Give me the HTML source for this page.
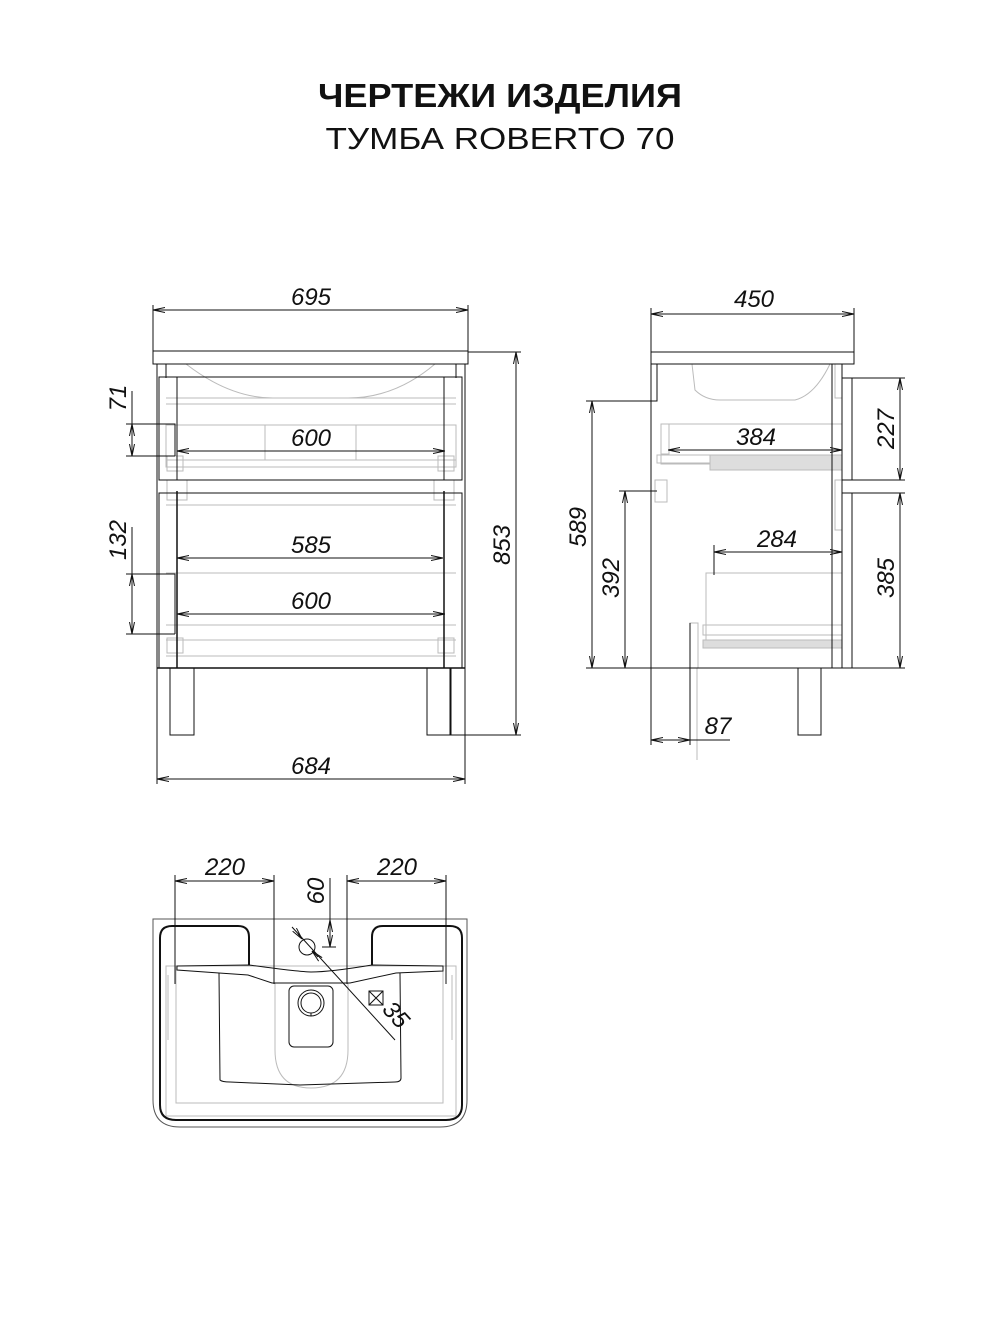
<!DOCTYPE html>
<html><head><meta charset="utf-8"><style>
html,body{margin:0;padding:0;background:#fff;}
svg{display:block;}
.t{font-family:"Liberation Sans",sans-serif;fill:#111;}
.d{font-family:"Liberation Sans",sans-serif;font-style:italic;font-size:24px;fill:#111;}
</style></head><body>
<svg width="1000" height="1334" viewBox="0 0 1000 1334" xmlns="http://www.w3.org/2000/svg">
<defs>
<marker id="a" viewBox="0 0 12 6" refX="12" refY="3" markerWidth="12" markerHeight="6" markerUnits="userSpaceOnUse" orient="auto-start-reverse">
<path d="M0,0.5 L12,3 L0,5.5" fill="none" stroke="#111" stroke-width="1"/>
</marker>
</defs>
<text class="t" x="500" y="107" text-anchor="middle" font-size="33" font-weight="bold" textLength="364" lengthAdjust="spacingAndGlyphs">ЧЕРТЕЖИ ИЗДЕЛИЯ</text>
<text class="t" x="500" y="149" text-anchor="middle" font-size="31" textLength="349" lengthAdjust="spacingAndGlyphs" fill="#222">ТУМБА ROBERTO 70</text>

<g fill="none" stroke="#111" stroke-width="1">
<!-- FRONT VIEW -->
<g stroke="#bbb">
<path d="M186,364 Q230,398 273,398 L348,398 Q395,398 435,364"/>
<line x1="166" y1="398" x2="456" y2="398"/>
<line x1="166" y1="404" x2="456" y2="404"/>
<rect x="166" y="425" width="290" height="42"/>
<line x1="265" y1="425" x2="265" y2="460"/>
<line x1="356" y1="425" x2="356" y2="460"/>
<line x1="166" y1="460" x2="456" y2="460"/>
<line x1="166" y1="505" x2="456" y2="505"/>
<line x1="166" y1="573" x2="456" y2="573"/>
<line x1="166" y1="625" x2="456" y2="625"/>
<line x1="166" y1="640" x2="456" y2="640"/>
<line x1="166" y1="656" x2="456" y2="656"/>
<rect x="167" y="480" width="20" height="20"/>
<rect x="434" y="480" width="20" height="20"/>
<rect x="167" y="456" width="16" height="15"/><rect x="438" y="456" width="16" height="15"/>
<rect x="167" y="638" width="16" height="15"/><rect x="438" y="638" width="16" height="15"/>
</g>
<rect x="153" y="351" width="315" height="13"/>
<rect x="157" y="364" width="308" height="304"/>
<line x1="166" y1="364" x2="166" y2="378"/>
<line x1="456" y1="364" x2="456" y2="378"/>
<rect x="159" y="377" width="303" height="103"/>
<line x1="177" y1="377" x2="177" y2="480"/>
<line x1="444" y1="377" x2="444" y2="480"/>
<rect x="159" y="493" width="303" height="175"/>
<line x1="177" y1="491" x2="177" y2="668" stroke-width="1.5"/>
<line x1="444" y1="491" x2="444" y2="668" stroke-width="1.5"/>
<line x1="157" y1="668" x2="465" y2="668" stroke-width="1.5"/>
<rect x="170" y="668" width="24" height="67"/>
<rect x="427" y="668" width="24" height="67"/>
<line x1="450" y1="668" x2="450" y2="735"/>
<line x1="153" y1="305" x2="153" y2="351"/>
<line x1="468" y1="305" x2="468" y2="351"/>
<line x1="153" y1="310" x2="468" y2="310" marker-start="url(#a)" marker-end="url(#a)"/>
<line x1="468" y1="352" x2="521" y2="352"/>
<line x1="427" y1="735" x2="521" y2="735"/>
<line x1="516" y1="352" x2="516" y2="735" marker-start="url(#a)" marker-end="url(#a)"/>
<line x1="157" y1="668" x2="157" y2="784"/>
<line x1="465" y1="668" x2="465" y2="784"/>
<line x1="157" y1="779" x2="465" y2="779" marker-start="url(#a)" marker-end="url(#a)"/>
<line x1="177" y1="451" x2="445" y2="451" marker-start="url(#a)" marker-end="url(#a)"/>
<line x1="177" y1="558" x2="443" y2="558" marker-start="url(#a)" marker-end="url(#a)"/>
<line x1="177" y1="614" x2="445" y2="614" marker-start="url(#a)" marker-end="url(#a)"/>
<path d="M126,424 H175 V456 M126,456 H175"/>
<line x1="132" y1="391" x2="132" y2="456"/>
<line x1="132" y1="424" x2="132" y2="456" marker-start="url(#a)" marker-end="url(#a)"/>
<path d="M126,574 H175 V634 M126,634 H175"/>
<line x1="132" y1="527" x2="132" y2="574"/>
<line x1="132" y1="574" x2="132" y2="634" marker-start="url(#a)" marker-end="url(#a)"/>

<!-- SIDE VIEW -->
<g stroke="#bbb">
<path d="M692,364 L695,390 Q705,400 720,400 L795,400 Q815,395 830,364"/>
<rect x="661" y="424" width="181" height="40"/>
<rect x="661" y="424" width="8" height="30"/>
<rect x="657" y="455" width="185" height="8"/>
<rect x="710" y="455" width="132" height="15" fill="#ddd"/>
<rect x="706" y="573" width="136" height="72"/>
<rect x="703" y="625" width="139" height="10"/>
<rect x="703" y="640" width="139" height="8" fill="#ddd"/>
<rect x="690" y="623" width="8" height="45"/>
<rect x="655" y="480" width="12" height="22"/>
<rect x="835" y="364" width="7" height="34"/>
<rect x="835" y="480" width="7" height="50"/>
<line x1="657" y1="364" x2="657" y2="401"/>
<line x1="697" y1="668" x2="697" y2="760"/>
</g>
<rect x="651" y="352" width="203" height="12"/>
<line x1="651" y1="364" x2="651" y2="745"/>
<line x1="651" y1="668" x2="842" y2="668"/>
<line x1="832" y1="364" x2="832" y2="668"/>
<line x1="842" y1="364" x2="842" y2="668"/>
<rect x="842" y="378" width="10" height="102"/>
<rect x="842" y="493" width="10" height="175"/>
<rect x="798" y="668" width="23" height="67"/>
<line x1="651" y1="308" x2="651" y2="352"/>
<line x1="854" y1="308" x2="854" y2="352"/>
<line x1="651" y1="314" x2="854" y2="314" marker-start="url(#a)" marker-end="url(#a)"/>
<line x1="852" y1="378" x2="905" y2="378"/>
<line x1="852" y1="480" x2="905" y2="480"/>
<line x1="852" y1="493" x2="905" y2="493"/>
<line x1="852" y1="668" x2="905" y2="668"/>
<line x1="900" y1="378" x2="900" y2="480" marker-start="url(#a)" marker-end="url(#a)"/>
<line x1="900" y1="493" x2="900" y2="668" marker-start="url(#a)" marker-end="url(#a)"/>
<path d="M586,401 H657 V364"/>
<line x1="586" y1="668" x2="651" y2="668"/>
<line x1="592" y1="401" x2="592" y2="668" marker-start="url(#a)" marker-end="url(#a)"/>
<line x1="619" y1="491" x2="657" y2="491"/>
<line x1="625" y1="491" x2="625" y2="668" marker-start="url(#a)" marker-end="url(#a)"/>
<line x1="668" y1="450" x2="842" y2="450" marker-start="url(#a)" marker-end="url(#a)"/>
<line x1="714" y1="545" x2="714" y2="575"/>
<line x1="714" y1="552" x2="842" y2="552" marker-start="url(#a)" marker-end="url(#a)"/>
<line x1="690" y1="623" x2="690" y2="745"/>
<line x1="651" y1="740" x2="690" y2="740" marker-start="url(#a)" marker-end="url(#a)"/>
<line x1="690" y1="740" x2="730" y2="740"/>

<!-- TOP VIEW -->
<g stroke="#bbb">
<rect x="166" y="966" width="290" height="150"/>
<rect x="176" y="966" width="267" height="137"/>
<path d="M275,983 V1050 Q275,1088 311,1088 Q348,1088 348,1050 V983"/>
<line x1="168" y1="975" x2="168" y2="1040"/><line x1="452" y1="975" x2="452" y2="1040"/>
</g>
<path d="M153,919 V1100 Q153,1127 180,1127 H440 Q467,1127 467,1100 V919 Z" stroke="#555"/>
<path d="M172,926 H238 Q249,926 249,937 V965 M372,965 V937 Q372,926 383,926 H450 Q462,926 462,938 V1105 Q462,1120 446,1120 H176 Q160,1120 160,1105 V938 Q160,926 172,926" stroke-width="2"/>
<path d="M177,966 L249,965 Q300,972 311,972 Q330,972 372,965 L443,966 L443,971 L396,973 L350,983 L272,983 L248,975 L219,973 L177,970 Z"/>
<path d="M219,973 L220,1080 Q222,1082 230,1082 L300,1085 L395,1082 Q401,1082 401,1078 L400,973"/>
<rect x="289" y="986" width="44" height="61" rx="5"/>
<circle cx="311" cy="1003" r="13"/>
<circle cx="311" cy="1003" r="10"/>
<line x1="311" y1="1013" x2="311" y2="1016"/>
<circle cx="307" cy="947" r="8"/>
<line x1="292" y1="927" x2="395" y2="1040"/>
<line x1="298" y1="934" x2="302" y2="939" marker-end="url(#a)"/>
<line x1="318" y1="957" x2="312" y2="951" marker-end="url(#a)"/>
<rect x="369" y="991" width="14" height="14"/>
<path d="M369,991 L383,1005 M383,991 L369,1005"/>
<line x1="175" y1="875" x2="175" y2="984"/>
<line x1="274" y1="875" x2="274" y2="984"/>
<line x1="347" y1="875" x2="347" y2="984"/>
<line x1="446" y1="875" x2="446" y2="984"/>
<line x1="175" y1="881" x2="274" y2="881" marker-start="url(#a)" marker-end="url(#a)"/>
<line x1="347" y1="881" x2="446" y2="881" marker-start="url(#a)" marker-end="url(#a)"/>
<line x1="330" y1="878" x2="330" y2="947"/>
<line x1="330" y1="920" x2="330" y2="947" marker-start="url(#a)" marker-end="url(#a)"/>
<line x1="322" y1="947" x2="336" y2="947"/>
</g>

<text class="d" x="311" y="305" text-anchor="middle">695</text>
<text class="d" x="311" y="446" text-anchor="middle">600</text>
<text class="d" x="311" y="553" text-anchor="middle">585</text>
<text class="d" x="311" y="609" text-anchor="middle">600</text>
<text class="d" x="311" y="774" text-anchor="middle">684</text>
<text class="d" transform="translate(510,545) rotate(-90)" text-anchor="middle">853</text>
<text class="d" transform="translate(126,398) rotate(-90)" text-anchor="middle">71</text>
<text class="d" transform="translate(126,540) rotate(-90)" text-anchor="middle">132</text>
<text class="d" x="754" y="307" text-anchor="middle">450</text>
<text class="d" x="756" y="445" text-anchor="middle">384</text>
<text class="d" x="777" y="547" text-anchor="middle">284</text>
<text class="d" x="718" y="734" text-anchor="middle">87</text>
<text class="d" transform="translate(894,429) rotate(-90)" text-anchor="middle">227</text>
<text class="d" transform="translate(894,578) rotate(-90)" text-anchor="middle">385</text>
<text class="d" transform="translate(586,527) rotate(-90)" text-anchor="middle">589</text>
<text class="d" transform="translate(619,578) rotate(-90)" text-anchor="middle">392</text>
<text class="d" x="225" y="875" text-anchor="middle">220</text>
<text class="d" x="397" y="875" text-anchor="middle">220</text>
<text class="d" transform="translate(324,891) rotate(-90)" text-anchor="middle">60</text>
<text class="d" transform="translate(390,1020) rotate(48)" text-anchor="middle">35</text>
</svg>
</body></html>
